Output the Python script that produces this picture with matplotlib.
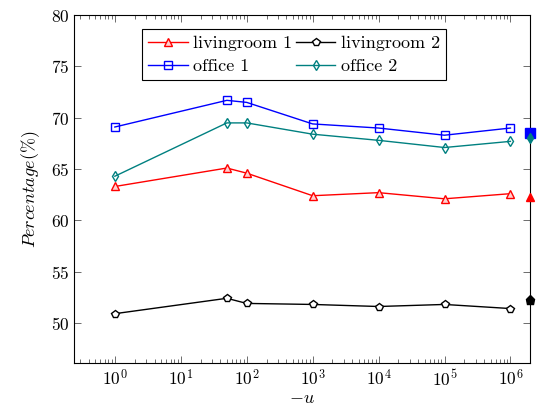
import matplotlib
matplotlib.use("Agg")
import matplotlib.pyplot as plt
from matplotlib.ticker import LogLocator, NullFormatter

plt.rcParams['font.family'] = 'serif'
plt.rcParams['font.serif'] = ['cmr10', 'DejaVu Serif']
plt.rcParams['mathtext.fontset'] = 'cm'
plt.rcParams['axes.unicode_minus'] = False
plt.rcParams['axes.formatter.use_mathtext'] = True

# valeurs de u (en -u) et pourcentages par salle
u = [1, 50, 100, 1000, 10000, 100000, 1000000]
livingroom1 = [63.3, 65.1, 64.6, 62.4, 62.7, 62.1, 62.6]
livingroom2 = [50.9, 52.4, 51.9, 51.8, 51.6, 51.8, 51.4]
office1 = [69.1, 71.7, 71.5, 69.4, 69.0, 68.3, 69.0]
office2 = [64.3, 69.5, 69.5, 68.4, 67.8, 67.1, 67.7]

# points de référence (marqueurs pleins sur le bord droit)
u_ref = 2e6
ref_livingroom1 = 62.3
ref_livingroom2 = 52.2
ref_office1 = 68.5
ref_office2 = 68.0

xticks = [1, 10, 100, 1000, 10000, 100000, 1000000]

fig, ax = plt.subplots(figsize=(5.4, 4.11), dpi=100)
fig.subplots_adjust(left=0.137, right=0.982, top=0.963, bottom=0.117)

l1, = ax.plot(u, livingroom1, color='red', marker='^', ms=5.5, mfc='#ffd0d0', mec='red', lw=1, label='livingroom 1')
l2, = ax.plot(u, livingroom2, color='black', marker='p', ms=6, mfc='white', mec='black', lw=1, label='livingroom 2')
o1, = ax.plot(u, office1, color='blue', marker='s', ms=6, mfc='none', mec='blue', lw=1, label='office 1')
o2, = ax.plot(u, office2, color='teal', marker='d', ms=5.5, mfc='none', mec='teal', lw=1, label='office 2')

ax.plot([u_ref], [ref_office1], 's', color='blue', ms=6.5, clip_on=False, zorder=5)
ax.plot([u_ref], [ref_office2], 'd', color='teal', ms=5.5, clip_on=False, zorder=6)
ax.plot([u_ref], [ref_livingroom1], '^', color='red', ms=6, clip_on=False, zorder=5)
ax.plot([u_ref], [ref_livingroom2], 'p', color='black', ms=6.5, clip_on=False, zorder=5)

ax.set_xscale('log')
ax.set_xlim(0.24, 2e6)
ax.set_ylim(46.1, 80)
ax.set_yticks([50, 55, 60, 65, 70, 75, 80])
ax.set_xticks(xticks)
ax.xaxis.set_minor_locator(LogLocator(base=10, subs=range(2, 10), numticks=20))
ax.xaxis.set_minor_formatter(NullFormatter())

ax.tick_params(which='both', direction='in', top=True, right=True, labelsize=12.5)
ax.tick_params(which='major', length=5, width=0.6, color='#555555')
ax.tick_params(which='minor', length=3, width=0.6, color='#555555')

ax.set_xlabel('$-u$', fontsize=13, labelpad=2)
ax.set_ylabel(r'$Percentage(\%)$', fontsize=13, labelpad=6)

# ordre des entrées : livingroom 1/2 sur la première ligne, office 1/2 sur la seconde
leg = ax.legend([l1, o1, l2, o2], ['livingroom 1', 'office 1', 'livingroom 2', 'office 2'],
                loc='upper center', bbox_to_anchor=(0.482, 0.96), ncol=2, fontsize=13,
                frameon=True, fancybox=False, edgecolor='black', framealpha=1,
                handlelength=2.2, columnspacing=0.2, handletextpad=0.3,
                borderpad=0.35, labelspacing=0.4, borderaxespad=0)
leg.get_frame().set_linewidth(0.8)

fig.savefig('out.png', dpi=100)
